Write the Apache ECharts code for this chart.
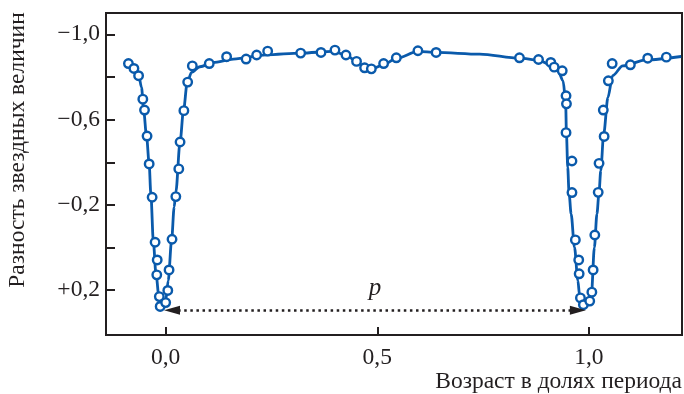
<!DOCTYPE html>
<html>
<head>
<meta charset="utf-8">
<script src="https://cdn.jsdelivr.net/npm/echarts@6/dist/echarts.min.js"></script>
<style>html,body{margin:0;padding:0;background:#fff}#c{width:684px;height:394px}</style>
</head>
<body>
<div id="c"></div>
<script>
// Observed points: phase, magnitude difference
var obsX = [-0.088,-0.075,-0.064,-0.054,-0.050,-0.044,-0.039,-0.032,-0.025,-0.020,-0.021,-0.015,-0.013,0.000,0.005,0.008,0.015,0.024,0.031,0.034,0.043,0.052,0.063,0.103,0.144,0.190,0.215,0.241,0.319,0.367,0.400,0.426,0.451,0.470,0.486,0.515,0.545,0.596,0.639,0.836,0.881,0.910,0.918,0.937,0.946,0.947,0.946,0.960,0.960,0.968,0.976,0.977,0.980,0.987,1.002,1.007,1.010,1.014,1.022,1.024,1.036,1.034,1.046,1.055,1.098,1.139,1.183];
var obsY = [-0.863,-0.840,-0.806,-0.696,-0.645,-0.523,-0.392,-0.236,-0.025,0.058,0.128,0.230,0.276,0.258,0.201,0.105,-0.039,-0.239,-0.369,-0.495,-0.642,-0.776,-0.852,-0.863,-0.895,-0.884,-0.903,-0.921,-0.912,-0.915,-0.926,-0.903,-0.873,-0.843,-0.838,-0.863,-0.890,-0.923,-0.915,-0.890,-0.882,-0.868,-0.846,-0.829,-0.712,-0.674,-0.539,-0.406,-0.258,-0.036,0.058,0.123,0.236,0.268,0.251,0.209,0.105,-0.059,-0.259,-0.395,-0.521,-0.645,-0.782,-0.863,-0.857,-0.888,-0.893];
// Fitted light curve
var curveX = [-0.088,-0.075,-0.064,-0.057,-0.052,-0.045,-0.039,-0.035,-0.029,-0.023,-0.015,-0.009,0.000,0.006,0.014,0.020,0.024,0.034,0.042,0.051,0.061,0.081,0.112,0.160,0.238,0.319,0.396,0.426,0.451,0.470,0.486,0.514,0.545,0.596,0.639,0.742,0.836,0.881,0.907,0.927,0.939,0.945,0.947,0.950,0.953,0.958,0.966,0.974,0.978,0.988,0.998,1.006,1.013,1.019,1.024,1.028,1.035,1.045,1.056,1.080,1.135,1.218];
var curveY = [-0.863,-0.842,-0.810,-0.751,-0.642,-0.517,-0.392,-0.250,-0.025,0.122,0.248,0.276,0.248,0.155,-0.033,-0.190,-0.260,-0.495,-0.642,-0.774,-0.821,-0.848,-0.868,-0.884,-0.904,-0.912,-0.920,-0.903,-0.873,-0.845,-0.836,-0.857,-0.887,-0.920,-0.915,-0.907,-0.888,-0.879,-0.860,-0.829,-0.782,-0.688,-0.532,-0.376,-0.260,-0.158,-0.001,0.155,0.225,0.276,0.264,0.217,-0.001,-0.158,-0.260,-0.360,-0.534,-0.704,-0.806,-0.852,-0.880,-0.896];
var xTicks = [0, 0.5, 1.0];
var yTicks = [-1.0, -0.8, -0.6, -0.4, -0.2, 0.0, 0.2];
var yLabels = [-1.0, -0.6, -0.2, 0.2];
var periodArrow = [0.015, 0.974, 0.294];

var blue = '#0a5aab';
var ink = '#231f20';
var serif = '"Liberation Serif","DejaVu Serif",serif';

function zip(a, b) { return a.map(function (v, i) { return [v, b[i]]; }); }
function fmt(v) {
  var s = Math.abs(v).toFixed(1).replace('.', ',');
  if (Math.abs(v) < 1e-9) return s;
  return (v < 0 ? '\u2212' : '+') + s;
}

var chart = echarts.init(document.getElementById('c'), null, {renderer: 'canvas'});
chart.setOption({
  animation: false,
  backgroundColor: '#fff',
  grid: {left: 106, right: 2, top: 13, bottom: 59, outerBoundsMode: 'none', containLabel: false, show: true, borderColor: ink, borderWidth: 2, backgroundColor: 'transparent'},
  xAxis: {
    type: 'value', min: -0.141, max: 1.22,
    name: 'Возраст в долях периода', nameLocation: 'end', nameGap: 0,
    nameTextStyle: {fontFamily: serif, fontSize: 23.5, color: ink, align: 'right', verticalAlign: 'top', padding: [35, 0, 0, 0]},
    axisLine: {show: true, onZero: false, lineStyle: {color: ink, width: 2}},
    axisTick: {show: true, inside: true, length: 8, customValues: xTicks, lineStyle: {color: ink, width: 2}},
    axisLabel: {customValues: xTicks, margin: 11, fontFamily: serif, fontSize: 23.5, color: ink, formatter: function (v) { return v.toFixed(1).replace('.', ','); }},
    splitLine: {show: false}
  },
  yAxis: {
    type: 'value', inverse: true, min: -1.1, max: 0.41,
    name: 'Разность звездных величин', nameLocation: 'middle', nameGap: 76, nameRotate: 90,
    nameTextStyle: {fontFamily: serif, fontSize: 23.5, color: ink, padding: [0, 0, 0, 48]},
    axisLine: {show: true, onZero: false, lineStyle: {color: ink, width: 2}},
    axisTick: {show: true, inside: true, length: 9, customValues: yTicks, lineStyle: {color: ink, width: 2}},
    axisLabel: {customValues: yLabels, margin: 6, fontFamily: serif, fontSize: 23.5, color: ink, formatter: fmt},
    splitLine: {show: false}
  },
  series: [
    {
      type: 'line', data: zip(curveX, curveY), smooth: 0.3, smoothMonotone: 'x',
      showSymbol: false, lineStyle: {color: blue, width: 2.8}, z: 2,
      markLine: {
        silent: true, animation: false,
        symbol: ['triangle', 'triangle'], symbolSize: [9, 16],
        lineStyle: {color: ink, width: 2.5, type: [2.5, 3.6]},
        label: {show: true, position: 'middle', formatter: 'p', distance: 9, fontFamily: serif, fontStyle: 'italic', fontSize: 25, color: ink},
        data: [[{coord: [periodArrow[0], periodArrow[2]]}, {coord: [periodArrow[1], periodArrow[2]]}]]
      }
    },
    {
      type: 'scatter', data: zip(obsX, obsY), symbol: 'circle', symbolSize: 8.5,
      itemStyle: {color: '#fff', borderColor: blue, borderWidth: 2.4, opacity: 1}, z: 3
    }
  ]
});
</script>
</body>
</html>
